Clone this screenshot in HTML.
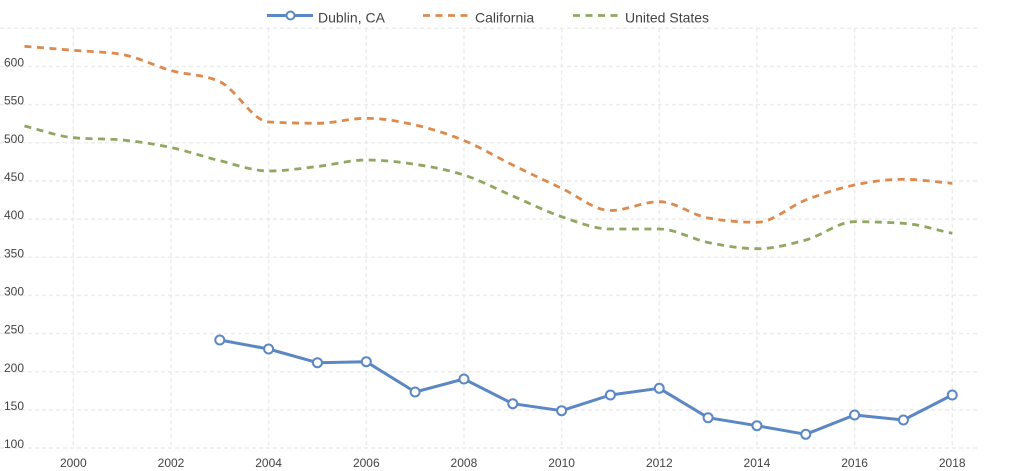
<!DOCTYPE html>
<html>
<head>
<meta charset="utf-8">
<style>
  html, body { margin: 0; padding: 0; background: #ffffff; }
  body { width: 1024px; height: 471px; overflow: hidden; }
  svg { display: block; font-family: "Liberation Sans", "DejaVu Sans", sans-serif; }
  .grid line { stroke: #ececec; stroke-width: 1.5; stroke-dasharray: 4,3; }
  .ylab { font-size: 12px; fill: #444; }
  .xlab { font-size: 12px; fill: #444; text-anchor: middle; }
  .leg { font-size: 14px; fill: #444; }
</style>
</head>
<body>
<svg id="chart" width="1024" height="471" viewBox="0 0 1024 471" xmlns="http://www.w3.org/2000/svg">
  <g class="grid" id="grid"></g>
  <g id="ylabels">
    <text class="ylab" x="4" y="66.5">600</text>
    <text class="ylab" x="4" y="104.7">550</text>
    <text class="ylab" x="4" y="142.8">500</text>
    <text class="ylab" x="4" y="181">450</text>
    <text class="ylab" x="4" y="219.1">400</text>
    <text class="ylab" x="4" y="257.3">350</text>
    <text class="ylab" x="4" y="295.5">300</text>
    <text class="ylab" x="4" y="333.6">250</text>
    <text class="ylab" x="4" y="371.8">200</text>
    <text class="ylab" x="4" y="410">150</text>
    <text class="ylab" x="4" y="448.1">100</text>
  </g>
  <g id="xlabels">
    <text class="xlab" x="73.3" y="467">2000</text>
    <text class="xlab" x="171" y="467">2002</text>
    <text class="xlab" x="268.6" y="467">2004</text>
    <text class="xlab" x="366.3" y="467">2006</text>
    <text class="xlab" x="463.9" y="467">2008</text>
    <text class="xlab" x="561.6" y="467">2010</text>
    <text class="xlab" x="659.3" y="467">2012</text>
    <text class="xlab" x="756.9" y="467">2014</text>
    <text class="xlab" x="854.6" y="467">2016</text>
    <text class="xlab" x="952.2" y="467">2018</text>
  </g>

  <path id="ca" fill="none" stroke="#dc8a4e" stroke-width="2.8" stroke-dasharray="7,5.5"
    d="M24.47,46.3 L73.3,50.3 L122.13,54.5 L170.96,70.5 L219.79,81.7 L268.62,122 L317.45,123.3 L366.28,118.3 L415.11,125 L463.94,140.5 L512.77,165 L561.6,188.3 L610.43,210.5 L659.26,201.7 L708.09,218 L756.92,222.3 L805.75,200 L854.58,185 L903.41,179.3 L952.24,183.3"/>
  <path id="us" fill="none" stroke="#8fa761" stroke-width="2.8" stroke-dasharray="7,5.5"
    d="M24.47,126 L73.3,137.7 L122.13,140 L170.96,147.5 L219.79,160.7 L268.62,171 L317.45,166.5 L366.28,160 L415.11,164.3 L463.94,175 L512.77,196 L561.6,216.7 L610.43,229 L659.26,229 L708.09,242.5 L756.92,248.7 L805.75,240 L854.58,221.7 L903.41,223.3 L952.24,233.3"/>
  <polyline id="dublin" fill="none" stroke="#5b87c4" stroke-width="3" stroke-linejoin="round"
    points="219.79,340 268.62,349 317.45,362.7 366.28,361.7 415.11,392 463.94,379 512.77,403.7 561.6,410.7 610.43,395 659.26,388.3 708.09,417.7 756.92,425.7 805.75,434.3 854.58,415 903.41,420 952.24,395"/>
  <g id="markers" fill="#ffffff" stroke="#5b87c4" stroke-width="2"></g>

  <!-- legend -->
  <line x1="267" y1="15.5" x2="313" y2="15.5" stroke="#5b87c4" stroke-width="3"/>
  <circle cx="290.5" cy="15.5" r="4" fill="#fff" stroke="#5b87c4" stroke-width="2"/>
  <text class="leg" x="318" y="22.5">Dublin, CA</text>
  <line x1="423" y1="15.5" x2="468" y2="15.5" stroke="#dc8a4e" stroke-width="2.8" stroke-dasharray="7,5.5"/>
  <text class="leg" x="475" y="22.5">California</text>
  <line x1="573" y1="15.5" x2="618" y2="15.5" stroke="#8fa761" stroke-width="2.8" stroke-dasharray="7,5.5"/>
  <text class="leg" x="625" y="22.5">United States</text>
</svg>
<script>
(function(){
  var NS = "http://www.w3.org/2000/svg";
  var grid = document.getElementById("grid");
  var k, y, x, l;
  for (k = 0; k < 12; k++) {
    y = 28.3 + k * 38.16;
    l = document.createElementNS(NS, "line");
    l.setAttribute("x1", 0); l.setAttribute("x2", 977);
    l.setAttribute("y1", y); l.setAttribute("y2", y);
    grid.appendChild(l);
  }
  for (k = 0; k <= 18; k += 2) {
    x = 73.3 + k * 48.83;
    l = document.createElementNS(NS, "line");
    l.setAttribute("x1", x); l.setAttribute("x2", x);
    l.setAttribute("y1", 28.3); l.setAttribute("y2", 448.3);
    grid.appendChild(l);
  }
  function parse(d){
    var pts = [];
    d.replace(/(-?[\d.]+),(-?[\d.]+)/g, function(m,a,b){ pts.push([+a,+b]); return m; });
    return pts;
  }
  function monotone(p){
    var n = p.length, i, dx = [], ms = [], t = [];
    for (i = 0; i < n-1; i++) { dx.push(p[i+1][0]-p[i][0]); ms.push((p[i+1][1]-p[i][1])/dx[i]); }
    t[0] = ms[0]; t[n-1] = ms[n-2];
    for (i = 1; i < n-1; i++) {
      if (ms[i-1]*ms[i] <= 0) t[i] = 0;
      else {
        var h0 = dx[i-1], h1 = dx[i];
        var pp = (ms[i-1]*h1 + ms[i]*h0)/(h0+h1);
        var s = (Math.sign(ms[i-1]) + Math.sign(ms[i])) * Math.min(Math.abs(ms[i-1]), Math.abs(ms[i]), 0.5*Math.abs(pp));
        t[i] = s || 0;
      }
    }
    var d = "M" + p[0][0] + "," + p[0][1];
    for (i = 0; i < n-1; i++) {
      var h = dx[i]/3;
      d += " C" + (p[i][0]+h) + "," + (p[i][1]+t[i]*h) + " " + (p[i+1][0]-h) + "," + (p[i+1][1]-t[i+1]*h) + " " + p[i+1][0] + "," + p[i+1][1];
    }
    return d;
  }
  ["ca","us"].forEach(function(id){
    var el = document.getElementById(id);
    el.setAttribute("d", monotone(parse(el.getAttribute("d"))));
  });
  var mk = document.getElementById("markers");
  var pts = document.getElementById("dublin").getAttribute("points").trim().split(/\s+/);
  pts.forEach(function(s){
    var a = s.split(",");
    var c = document.createElementNS(NS, "circle");
    c.setAttribute("cx", a[0]); c.setAttribute("cy", a[1]); c.setAttribute("r", 4.5);
    mk.appendChild(c);
  });
})();
</script>
</body>
</html>
